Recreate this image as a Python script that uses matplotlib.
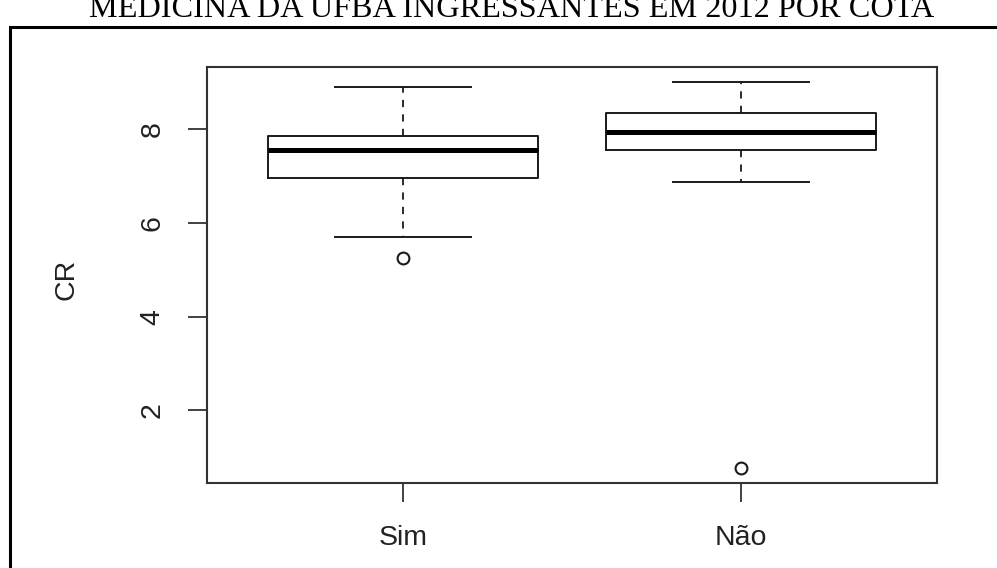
import matplotlib
matplotlib.use("Agg")
import matplotlib.pyplot as plt
from matplotlib import font_manager
from matplotlib.patches import Rectangle

# ---- data ----
groups = ["Sim", "Não"]
whisker_low = [5.70, 6.88]
quartile1 = [6.95, 7.55]
medians = [7.55, 7.95]
quartile3 = [7.85, 8.35]
whisker_high = [8.90, 9.00]
outliers = [[5.25], [0.78]]
yticks = [2, 4, 6, 8]
title = "MEDICINA DA UFBA INGRESSANTES EM 2012 POR COTA"
ylabel = "CR"


def pick(fams):
    for f in fams:
        try:
            font_manager.findfont(f, fallback_to_default=False)
            return f
        except Exception:
            pass
    return "DejaVu Sans"


sans = pick(["Liberation Sans", "Arial", "DejaVu Sans"])
serif = pick(["Liberation Serif", "Times New Roman", "DejaVu Serif"])

W, H = 997, 568
fig = plt.figure(figsize=(W / 100, H / 100), dpi=100)
fig.patch.set_facecolor("white")

# outer document frame (extends beyond right/bottom edges)
fig.add_artist(Rectangle((10 / W, -0.2), 1.3, 1.2 - 27 / H,
                         transform=fig.transFigure, fill=False,
                         lw=2.2, ec="black"))
fig.text(512 / W, 1 - 17 / H, title, ha="center", va="baseline",
         fontsize=23.2, family=serif, color="black")

ax = fig.add_axes([207 / W, 1 - 483 / H, 730 / W, 416 / H])

stats = []
for g, lo, a, m, b, hi, fl in zip(groups, whisker_low, quartile1, medians,
                                  quartile3, whisker_high, outliers):
    stats.append(dict(label=g, whislo=lo, q1=a, med=m, q3=b, whishi=hi, fliers=fl))

lc = "#1a1a1a"
ax.bxp(stats, positions=[1, 2], widths=0.8, capwidths=0.4,
       boxprops=dict(color=lc, lw=1.4),
       medianprops=dict(color="black", lw=3.6, solid_capstyle="butt"),
       whiskerprops=dict(color=lc, lw=1.3, linestyle=(0, (4, 4))),
       capprops=dict(color=lc, lw=1.4),
       flierprops=dict(marker="o", markerfacecolor="none", markeredgecolor=lc,
                       markersize=8.5, markeredgewidth=1.5))

allv = whisker_low + whisker_high + [v for o in outliers for v in o]
lo, hi = min(allv), max(allv)
pad = 0.04 * (hi - lo)
ax.set_ylim(lo - pad, hi + pad)
ax.set_xlim(0.42, 2.58)

ax.set_yticks(yticks)
ax.set_yticklabels([str(t) for t in yticks], rotation=90, va="center",
                   fontsize=20.5, family=sans, color="#222222")
ax.set_xticks([1, 2])
ax.set_xticklabels(groups, fontsize=20.5, family=sans, color="#222222")
ax.tick_params(axis="y", direction="out", length=14, width=1.3, pad=16, colors="#333333",
               labelcolor="#222222")
ax.tick_params(axis="x", direction="out", length=14, width=1.3, pad=16, colors="#333333",
               labelcolor="#222222")
for s in ax.spines.values():
    s.set_linewidth(1.5)
    s.set_color("#333333")

ax.set_ylabel(ylabel, fontsize=20.5, family=sans, color="#222222")
ax.yaxis.set_label_coords(-0.192, 0.49)
ax.yaxis.label.set_va("center")

fig.savefig("out.png", dpi=100, facecolor="white")
